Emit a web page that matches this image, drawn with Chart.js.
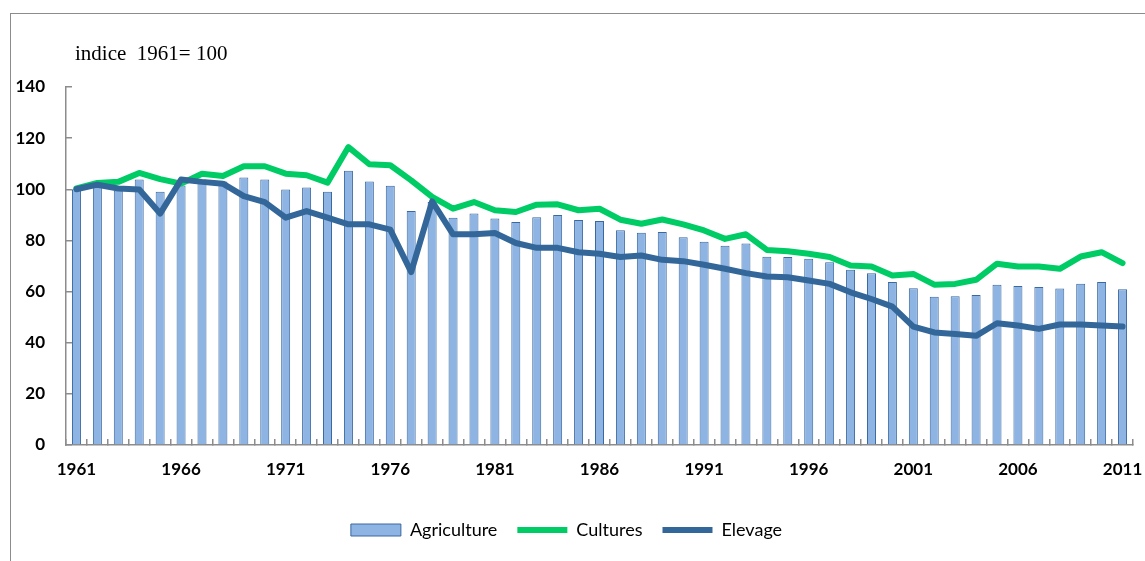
<!doctype html>
<html lang="fr">
<head>
<meta charset="utf-8">
<style>
  html, body { margin: 0; padding: 0; background: #fff; }
  #wrap { position: relative; width: 1145px; height: 561px; overflow: hidden; }
  #frame { position: absolute; left: 10px; top: 13px; width: 1200px; height: 600px; border: 1px solid #8c8c8c; }
  canvas { position: absolute; left: 0; top: 0; }
</style>
</head>
<body>
<div id="wrap">
  <div id="frame"></div>
  <canvas id="chart" width="1145" height="561"></canvas>
</div>

<script src="https://cdn.jsdelivr.net/npm/chart.js"></script>
<script>
  var years = [1961,1962,1963,1964,1965,1966,1967,1968,1969,1970,
               1971,1972,1973,1974,1975,1976,1977,1978,1979,1980,
               1981,1982,1983,1984,1985,1986,1987,1988,1989,1990,
               1991,1992,1993,1994,1995,1996,1997,1998,1999,2000,
               2001,2002,2003,2004,2005,2006,2007,2008,2009,2010,
               2011];

  var agriculture = [100,101.5,99.5,103.8,99,101.5,103.8,103,104.6,103.8,
                     99.9,100.7,99,107.2,103,101.4,91.5,95,88.9,90.5,
                     88.6,87.2,89.1,89.9,88,87.6,84,83,83.3,81.2,
                     79.5,77.9,78.8,73.6,73.5,72.8,71.5,68.5,67.2,63.7,
                     61.3,58,58.2,58.7,62.7,62.2,61.8,61.2,63.1,63.7,
                     60.9];

  var cultures = [100.3,102.5,102.9,106.4,104,102.2,106.1,105.2,109,109,
                  106.1,105.5,102.6,116.5,109.8,109.4,103.5,97,92.4,95,
                  91.8,91.1,94,94.1,91.8,92.4,88.1,86.5,88.2,86.3,
                  83.9,80.6,82.4,76.3,75.8,74.8,73.5,70.2,69.8,66.3,
                  66.9,62.7,63,64.6,70.9,69.8,69.8,68.9,73.7,75.4,
                  71.1];

  var elevage = [100,101.8,100.3,99.9,90.5,103.8,102.9,102.2,97.3,95,
                 88.9,91.5,88.9,86.3,86.3,84.2,67.6,95.3,82.4,82.4,
                 82.9,79,77.1,77.1,75.4,74.8,73.5,74.1,72.4,71.9,
                 70.5,68.9,67.2,65.9,65.6,64.3,63,59.7,57.1,54.1,
                 46.3,44,43.4,42.7,47.6,46.7,45.4,47.1,47.1,46.7,
                 46.3];

  var yTicks = [0, 20, 40, 60, 80, 100, 120, 140];
  var subtitle = 'indice  1961= 100';

  // texte "indice 1961= 100" au-dessus de l'axe
  var noteText = {
    id: 'noteText',
    afterDraw: function(chart) {
      var ctx = chart.ctx;
      ctx.save();
      ctx.font = '21px "Liberation Serif", "Times New Roman", serif';
      ctx.fillStyle = '#000';
      ctx.textBaseline = 'alphabetic';
      ctx.fillText(subtitle, 75, 60);
      ctx.restore();
    }
  };

  var ctx = document.getElementById('chart').getContext('2d');
  window.myChart = new Chart(ctx, {
    type: 'bar',
    data: {
      labels: years,
      datasets: [{
        label: 'Agriculture',
        data: agriculture,
        backgroundColor: '#8DB4E3',
        borderColor: '#3A68A0',
        borderWidth: 1,
        categoryPercentage: 1,
        barPercentage: 0.43,
        pointStyle: 'rect',
        order: 3
      }, {
        type: 'line',
        label: 'Cultures',
        data: cultures,
        borderColor: '#00CC66',
        backgroundColor: '#00CC66',
        borderWidth: 6,
        borderCapStyle: 'round',
        borderJoinStyle: 'round',
        tension: 0,
        pointRadius: 0,
        pointStyle: 'line',
        order: 2
      }, {
        type: 'line',
        label: 'Elevage',
        data: elevage,
        borderColor: '#346799',
        backgroundColor: '#346799',
        borderWidth: 6,
        borderCapStyle: 'round',
        borderJoinStyle: 'round',
        tension: 0,
        pointRadius: 0,
        pointStyle: 'line',
        order: 1
      }]
    },
    options: {
      responsive: false,
      animation: false,
      layout: { padding: { top: 87, right: 12, bottom: 12, left: 0 } },
      plugins: {
        tooltip: { enabled: false },
        title: { display: false },
        legend: {
          position: 'bottom',
          labels: {
            usePointStyle: true,
            pointStyleWidth: 50,
            boxHeight: 12,
            padding: 20,
            color: '#000',
            font: { family: 'Lato', size: 18 },
            sort: function(a, b) { return a.datasetIndex - b.datasetIndex; }
          }
        }
      },
      scales: {
        x: {
          grid: { drawOnChartArea: false, offset: true, tickLength: -6, color: '#8c8c8c', lineWidth: 1.5 },
          border: { color: '#8c8c8c', width: 1.5 },
          ticks: {
            autoSkip: false,
            maxRotation: 0,
            padding: 20,
            color: '#000',
            font: { family: 'Lato', size: 17, weight: 'bold' },
            callback: function(val, i) { return i % 5 === 0 ? this.getLabelForValue(val) : ''; }
          },
          afterFit: function(scale) {
            scale.height = 56;
            scale.paddingLeft = 0;
            scale.paddingRight = 0;
          }
        },
        y: {
          min: 0,
          max: 140,
          grid: { drawOnChartArea: false, tickLength: -6, color: '#8c8c8c', lineWidth: 1.5 },
          border: { color: '#8c8c8c', width: 1.5 },
          afterBuildTicks: function(scale) { scale.ticks = yTicks.map(function(v) { return { value: v }; }); },
          ticks: {
            padding: 27,
            color: '#000',
            font: { family: 'Lato', size: 17, weight: 'bold' }
          },
          afterFit: function(scale) { scale.width = 66; }
        }
      }
    },
    plugins: [noteText]
  });
</script>
</body>
</html>
